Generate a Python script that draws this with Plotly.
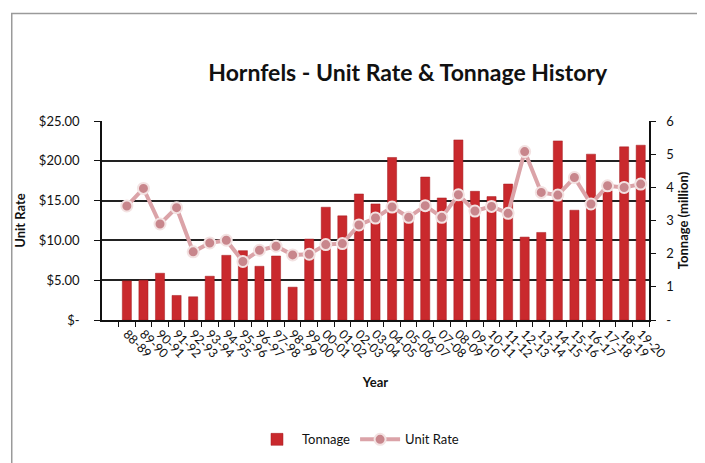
import plotly.graph_objects as go

years = ['88-89', '89-90', '90-91', '91-92', '92-93', '93-94', '94-95', '95-96',
         '96-97', '97-98', '98-99', '99-00', '00-01', '01-02', '02-03', '03-04',
         '04-05', '05-06', '06-07', '07-08', '08-09', '09-10', '10-11', '11-12',
         '12-13', '13-14', '14-15', '15-16', '16-17', '17-18', '18-19', '19-20']

# tonnage in million (right axis)
tonnage = [1.18, 1.20, 1.41, 0.74, 0.70, 1.32, 1.95, 2.09,
           1.62, 1.93, 0.99, 2.44, 3.40, 3.14, 3.80, 3.50,
           4.90, 3.00, 4.31, 3.68, 5.43, 3.88, 3.72, 4.10,
           2.50, 2.64, 5.40, 3.31, 5.00, 3.90, 5.22, 5.27]

# unit rate in $ (left axis)
unit_rate = [14.32, 16.53, 12.06, 14.11, 8.56, 9.68, 10.02, 7.35,
             8.76, 9.27, 8.18, 8.26, 9.47, 9.60, 11.94, 12.81,
             14.19, 12.90, 14.36, 12.90, 15.73, 13.69, 14.27, 13.40,
             21.16, 16.03, 15.69, 17.90, 14.57, 16.86, 16.65, 17.07]

rate_ticks = [0, 5, 10, 15, 20, 25]
rate_labels = ['$-', '$5.00', '$10.00', '$15.00', '$20.00', '$25.00']
ton_ticks = [0, 1, 2, 3, 4, 5, 6]
ton_labels = ['-', '1', '2', '3', '4', '5', '6']

FONT = 'Lato'

fig = go.Figure()
fig.add_trace(go.Bar(
    x=years, y=tonnage, name='Tonnage', yaxis='y',
    marker=dict(color='#c9292d', line=dict(color='#a51d21', width=0.5)),
    width=0.55,
))
fig.add_trace(go.Scatter(
    x=years, y=unit_rate, name='Unit Rate', yaxis='y2', mode='lines+markers',
    line=dict(color='#dba3a8', width=4),
    marker=dict(size=11, color='#c8868c', line=dict(color='#f3e2e2', width=2)),
))

fig.update_layout(
    width=705, height=463,
    margin=dict(l=94, r=64, t=113, b=151),
    paper_bgcolor='white', plot_bgcolor='white',
    font=dict(family=FONT, size=12, color='#111'),
    title=dict(text='<b>Hornfels - Unit Rate & Tonnage History</b>',
               x=0.567, xanchor='center', y=0.86, yanchor='middle',
               font=dict(size=23, color='#111')),
    xaxis=dict(
        type='category', range=[-1.5, 31.5], tickson='boundaries',
        ticks='outside', ticklen=5, tickcolor='#111', tickangle=45,
        showline=True, linecolor='#111', linewidth=1.5, showgrid=False,
        tickfont=dict(size=12.5),
        title=dict(text='<b>Year</b>', font=dict(size=13), standoff=18),
    ),
    yaxis=dict(
        side='right', range=[0, 6], tickvals=ton_ticks, ticktext=ton_labels,
        showgrid=False, zeroline=False, showline=True, linecolor='#111',
        linewidth=1.5, ticks='outside', ticklen=5, tickcolor='#111',
        ticklabelstandoff=8, tickfont=dict(size=13),
        title=dict(text='<b>Tonnage (million)</b>', font=dict(size=13), standoff=6),
    ),
    yaxis2=dict(
        overlaying='y', side='left', range=[0, 25],
        tickvals=rate_ticks, ticktext=rate_labels,
        showgrid=True, gridcolor='#222', gridwidth=1.6, zeroline=False,
        showline=True, linecolor='#111', linewidth=1.5,
        ticks='outside', ticklen=6, tickcolor='#111',
        ticklabelstandoff=12, tickfont=dict(size=13),
        title=dict(text='<b>Unit Rate</b>', font=dict(size=13), standoff=10),
    ),
    legend=dict(orientation='h', x=0.468, xanchor='center', y=-0.6,
                yanchor='middle', font=dict(size=13), itemwidth=40,
                traceorder='normal'),
    showlegend=True,
)

# thin grey frame around the whole picture
fig.add_shape(type='rect', xref='paper', yref='paper',
              x0=-0.165, x1=1.11, y0=-0.745, y1=1.54,
              line=dict(color='#9a9a9a', width=1.5), layer='below')

fig.write_html('out.html')
